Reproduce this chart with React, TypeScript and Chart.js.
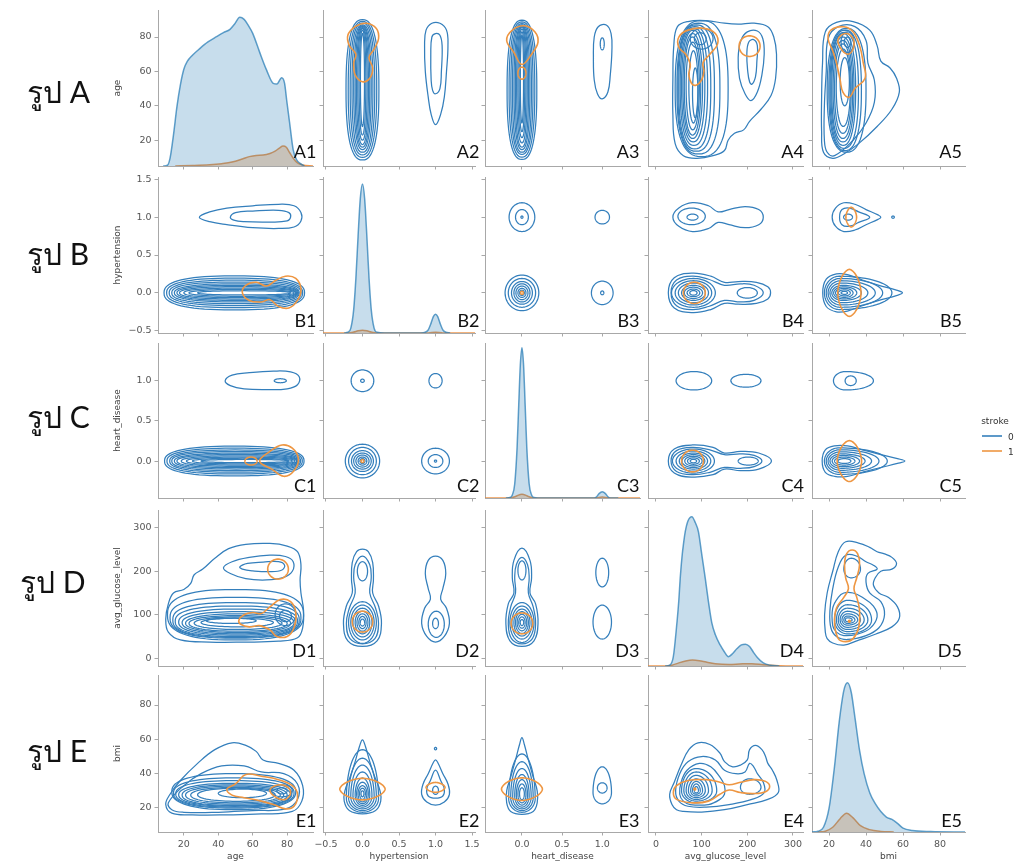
import React, { useEffect, useRef } from 'react';
import { Chart, registerables } from 'chart.js';

Chart.register(...registerables);

// ---------------- data ----------------
const variableNames = ['age', 'hypertension', 'heart_disease', 'avg_glucose_level', 'bmi'];
const rowLetters = ['A', 'B', 'C', 'D', 'E'];
const hueLevels = ['0', '1'];
const legendTitle = 'stroke';

const tickValues: number[][] = [
  [20, 40, 60, 80],
  [-0.5, 0, 0.5, 1, 1.5],
  [0, 0.5, 1],
  [0, 100, 200, 300],
  [20, 40, 60, 80],
];
const xRanges: number[][] = [[5, 95], [-0.54, 1.54], [-0.46, 1.47], [-17.5, 322], [10.8, 93.5]];
const yRanges: number[][] = [[5, 95.7], [-0.53, 1.53], [-0.46, 1.47], [-18, 341], [6, 97.5]];

// diagonal densities: [value, density] (density in % of panel height)
const ageDensity0 = [[8,0],[10.5,0.5],[12,5],[14,20],[16,38],[18,52],[20,62],[22,67],[25,71],[29.4,75.4],[34,79.5],[39,82.9],[43,85.5],[46.8,87.6],[49.5,91],[52.5,95.3],[55,94],[57.5,90],[60,85],[64,73],[68,61.6],[71.9,53],[74,52.6],[76.8,56.6],[78.5,53],[79.7,42.3],[81.5,27],[83.5,10.3],[85.5,4],[87.5,1.7],[90,0]];
const ageDensity1 = [[15,0],[25,0.3],[35,0.8],[42,1.5],[48,2.5],[54,4.5],[58,6],[62,6.8],[66,7],[70,8],[73,9.5],[75.5,11.5],[77.6,12.8],[79.5,12],[81.5,8.5],[83.5,5],[86,2],[89,0.6],[95,0]];
const hypDensity0 = [[-0.25,0],[-0.2,0.5],[-0.16,3],[-0.12,15],[-0.09,35],[-0.06,62],[-0.03,86],[0,95.5],[0.03,86],[0.06,62],[0.09,35],[0.12,15],[0.16,3],[0.2,0.5],[0.3,0],[0.8,0],[0.86,0.5],[0.9,2],[0.94,6.5],[0.97,10.5],[1,12],[1.03,10.5],[1.06,6.5],[1.1,2],[1.14,0.5],[1.2,0]];
const hypDensity1 = [[-0.54,0],[-0.2,0],[-0.12,0.6],[-0.06,1.4],[0,1.8],[0.06,1.4],[0.12,0.6],[0.2,0],[0.9,0],[1,0.5],[1.1,0],[1.54,0]];
const hdDensity0 = [[-0.2,0],[-0.15,0.3],[-0.12,2],[-0.09,9],[-0.06,33],[-0.04,60],[-0.02,86],[0,97],[0.02,86],[0.04,60],[0.06,33],[0.09,9],[0.12,2],[0.15,0.3],[0.2,0],[0.9,0],[0.93,0.8],[0.96,2.8],[1,4],[1.04,2.8],[1.07,0.8],[1.1,0],[1.2,0]];
const hdDensity1 = [[-0.46,0],[-0.15,0],[-0.08,1],[0,2.5],[0.08,1],[0.15,0],[0.92,0],[1,0.6],[1.08,0],[1.47,0]];
const gluDensity0 = [[20,0],[30,0.5],[38,6],[45,25],[50,42],[53,56],[57,70],[61,80],[64,86],[70,93],[78.5,95.7],[86,92],[93,86],[100,72],[108,56],[115,41],[122,28],[130,20],[140.5,13.5],[150,9],[158.6,6],[168,8],[177,11],[187,13.5],[196,14],[205,12.5],[213,9],[222,5.5],[235,2],[250,0.5],[270,0]];
const gluDensity1 = [[-17.5,0],[20,0],[35,0.5],[50,2],[65,3.2],[80,3.8],[95,3.4],[110,2.5],[130,1.5],[160,1],[190,1.4],[210,1.4],[235,0.8],[260,0.3],[290,0],[322,0]];
const bmiDensity0 = [[10.8,0],[14,0.5],[17,3],[20,15],[23,42],[25.5,70],[28,90],[30,95],[32,89],[34,73],[36.5,52],[39,37],[42,25],[45,18],[48,13],[51,9.5],[54,8],[57,5.5],[60,2.5],[65,1],[75,0.3],[93.5,0]];
const bmiDensity1 = [[14,0],[18,0.5],[22,3],[26,8.5],[29.5,12],[33,9],[37,4],[42,1.5],[48,0.4],[55,0]];

// contour specs (x = column variable, y = row variable of the lower panel)
// ['e', hue, cx, cy, rx, ry, p?]  ['a', hue, cx, cy, left, right, down, up, p?]  ['f', hue, x1, y1, x2, y2, ...]
type Spec = (string | number)[];

const contoursAgeHypertension: Spec[] = [
  ['f',0, 29,1.0, 35,1.07, 45,1.12, 60,1.15, 75,1.17, 84,1.15, 88,1.06, 88,0.95, 84,0.87, 75,0.85, 60,0.86, 45,0.9, 35,0.94],
  ['f',0, 47,1.0, 50,1.06, 60,1.08, 75,1.09, 81,1.06, 82,1.0, 80,0.95, 70,0.935, 55,0.94, 49,0.96],
  ['e',0, 49.3,0, 40.8,0.225, 2.5],
  ['e',0, 49.5,0, 39.5,0.195, 2.5],
  ['e',0, 49.8,0, 38.3,0.168, 2.5],
  ['e',0, 50,0, 37,0.143, 2.5],
  ['e',0, 50.5,0, 36,0.12, 2.4],
  ['e',0, 51,0, 35,0.1, 2.4],
  ['e',0, 51.5,0, 34,0.082, 2.3],
  ['e',0, 52.5,0, 32.5,0.064, 2.3],
  ['e',0, 53.5,0, 30.5,0.046, 2.2],
  ['e',0, 55,0, 27,0.028, 2.2],
  ['f',1, 54,0.0, 56,0.1, 62,0.14, 68,0.09, 73,0.16, 79,0.22, 85,0.19, 88,0.05, 86,-0.1, 81,-0.2, 75,-0.18, 70,-0.09, 65,-0.12, 58,-0.1],
];

const contoursAgeHeart: Spec[] = [
  ['f',0, 44,1.0, 48,1.07, 58,1.1, 72,1.12, 82,1.11, 87,1.05, 86,0.95, 80,0.9, 68,0.89, 55,0.9, 47,0.94],
  ['e',0, 76,1.0, 3.5,0.025],
  ['e',0, 49.3,0, 40.5,0.185, 2.5],
  ['e',0, 49.5,0, 39.3,0.16, 2.5],
  ['e',0, 49.8,0, 38,0.138, 2.5],
  ['e',0, 50,0, 37,0.118, 2.5],
  ['e',0, 50.5,0, 36,0.099, 2.4],
  ['e',0, 51,0, 35,0.082, 2.4],
  ['e',0, 52,0, 33.5,0.066, 2.3],
  ['e',0, 53,0, 31.5,0.05, 2.3],
  ['e',0, 54,0, 29,0.035, 2.2],
  ['e',0, 55.5,0, 25.5,0.02, 2.2],
  ['f',1, 64,0.0, 70,0.12, 77,0.2, 83,0.16, 86.5,0.03, 84,-0.12, 78,-0.19, 71,-0.1],
  ['e',1, 59,0, 3.5,0.05],
];

const contoursAgeGlucose: Spec[] = [
  ['f',0, 9.5,90, 11,125, 14,150, 20,158, 24,172, 26,192, 31,205, 38,230, 46,252, 56,262, 70,264, 80,258, 86,245, 88,215, 87.5,180, 88,150, 89.5,110, 89,70, 86,47, 75,39, 55,37, 35,37, 18,42, 11,60],
  ['f',0, 43,208, 48,222, 58,232, 70,237, 79,234, 83.5,222, 83,200, 78,186, 68,180, 56,183, 47,195],
  ['f',0, 52.5,210, 57,218, 66,221, 75,222, 78.5,214, 77,203, 70,199, 60,201, 54,205],
  ['e',0, 50,100, 39.5,58, 2.6],
  ['e',0, 50,93, 38,47, 2.6],
  ['e',0, 50.3,88, 36.7,40, 2.6],
  ['e',0, 50.5,85, 35.5,35, 2.5],
  ['e',0, 51,83, 34,30, 2.4],
  ['e',0, 51.5,81.5, 32.5,25.5, 2.3],
  ['e',0, 51.5,80.5, 30.5,21.5, 2.2],
  ['e',0, 51.5,80, 28.5,18, 2.2],
  ['e',0, 51.5,80.5, 25.5,14.5, 2.1],
  ['e',0, 51,82, 21,10],
  ['e',0, 47.5,86, 14.5,6],
  ['e',0, 79,100, 6,25],
  ['e',0, 79,97, 3.5,13],
  ['e',1, 74.7,205, 6,23],
  ['f',1, 52,88, 55,100, 60,105, 65,103, 70,118, 76,135, 82,130, 85,105, 84,70, 80,50, 74,50, 70,65, 64,75, 58,72, 53,78],
];

const contoursAgeBmi: Spec[] = [
  ['f',0, 9.5,22, 12,28, 18,36, 28,46, 38,54, 48,58, 56,56.5, 62,53, 66,48, 75,46, 84,42, 89,33, 88.5,24, 83,18, 65,16.5, 45,16, 25,16, 13,17],
  ['f',0, 11,23, 20,33, 30,40, 42,44.5, 55,44.5, 65,41, 78,40, 86,34, 86,25, 79,19.5, 60,18.5, 40,17.5, 20,17.5, 13,19],
  ['e',0, 49,29.5, 36,10.5, 2.4],
  ['e',0, 49,28.7, 35,8.8, 2.4],
  ['e',0, 49,28.2, 33.7,7.7, 2.4],
  ['e',0, 49.5,27.7, 32.5,6.7, 2.3],
  ['e',0, 49.5,27.5, 30.5,6, 2.3],
  ['e',0, 49.5,27.5, 28.5,5.3, 2.2],
  ['e',0, 50,27.5, 26,4.5, 2.2],
  ['e',0, 50.5,27.7, 22.5,3.8, 2.1],
  ['e',0, 54,28.5, 14,2.5],
  ['e',0, 77,30, 6,3.5],
  ['e',0, 77,30, 3,1.8],
  ['f',1, 45,31, 50,34, 56,39.5, 65,38.5, 75,36.5, 83,33, 86,28, 84,21, 79,19.5, 72,22, 65,24, 55,26, 48,27.5],
  ['f',1, 70,30, 73,33, 79,33, 82,29, 79,25, 74,26],
];

const contoursHypertensionHeart: Spec[] = [
  ['e',0, 0,0, 0.235,0.21],
  ['e',0, 0,0, 0.19,0.17],
  ['e',0, 0,0, 0.15,0.13],
  ['e',0, 0,0, 0.12,0.1],
  ['e',0, 0,0, 0.09,0.075],
  ['e',0, 0,0, 0.06,0.05],
  ['e',0, 0,0, 0.035,0.03],
  ['e',0, 1,0, 0.19,0.16],
  ['e',0, 1,0, 0.1,0.08],
  ['e',0, 1,0, 0.015,0.013],
  ['e',0, 0,1, 0.155,0.135],
  ['e',0, 0,1, 0.025,0.02],
  ['e',0, 1,1, 0.09,0.09],
  ['e',1, 0,0, 0.02,0.018],
];

const contoursHypertensionGlucose: Spec[] = [
  ['f',0, 1.0,37, 1.12,50, 1.19,80, 1.15,115, 1.07,136, 1.1,160, 1.14,195, 1.1,225, 1.0,235, 0.9,225, 0.86,195, 0.9,160, 0.93,136, 0.85,115, 0.81,80, 0.88,50],
  ['e',0, 1.01,78, 0.11,30],
  ['e',0, 1.0,80, 0.04,12],
  ['f',0, 0,27, 0.2,40, 0.26,80, 0.22,120, 0.14,150, 0.15,180, 0.14,220, 0.08,245, 0,251, -0.08,245, -0.14,220, -0.15,180, -0.14,150, -0.22,120, -0.26,80, -0.2,40],
  ['f',0, 0,33, 0.17,45, 0.22,80, 0.18,115, 0.1,150, 0.12,185, 0.1,215, 0,235, -0.1,215, -0.12,185, -0.1,150, -0.18,115, -0.22,80, -0.17,45],
  ['e',0, 0,82, 0.19,48],
  ['e',0, 0,82, 0.16,40],
  ['e',0, 0,82, 0.13,33],
  ['e',0, 0,82, 0.1,26],
  ['e',0, 0,82, 0.075,20],
  ['e',0, 0,82, 0.05,14],
  ['e',0, 0,82, 0.03,8],
  ['e',0, 0,200, 0.07,22],
  ['e',1, 0,84, 0.14,24],
];

const contoursHeartGlucose: Spec[] = [
  ['e',0, 1.0,83, 0.115,39],
  ['e',0, 1.0,197, 0.08,33],
  ['f',0, 0,27, 0.15,40, 0.2,80, 0.17,125, 0.1,150, 0.12,185, 0.1,225, 0,253, -0.1,225, -0.12,185, -0.1,150, -0.17,125, -0.2,80, -0.15,40],
  ['f',0, 0,33, 0.13,45, 0.17,80, 0.14,118, 0.08,150, 0.09,185, 0.07,215, 0,232, -0.07,215, -0.09,185, -0.08,150, -0.14,118, -0.17,80, -0.13,45],
  ['e',0, 0,82, 0.15,46],
  ['e',0, 0,82, 0.125,38],
  ['e',0, 0,82, 0.1,31],
  ['e',0, 0,82, 0.08,25],
  ['e',0, 0,82, 0.06,19],
  ['e',0, 0,82, 0.04,13],
  ['e',0, 0,82, 0.022,7],
  ['e',0, 0,202, 0.05,22],
  ['e',1, 0,80, 0.135,24],
];

const contoursHypertensionBmi: Spec[] = [
  ['f',0, 1.0,21.7, 1.12,23.5, 1.19,28, 1.17,34, 1.1,40, 1.03,46.5, 1.0,48, 0.97,46.5, 0.9,40, 0.83,34, 0.81,28, 0.88,23.5],
  ['f',0, 1.0,25.7, 1.1,27, 1.12,31, 1.07,36, 1.0,42, 0.93,36, 0.88,31, 0.9,27],
  ['e',0, 1.0,30.3, 0.04,2.4],
  ['e',0, 1.0,54.6, 0.015,0.7],
  ['f',0, 0,16.6, 0.18,18.5, 0.25,24, 0.24,30, 0.17,38, 0.1,47, 0.04,56, 0,59.7, -0.04,56, -0.1,47, -0.17,38, -0.24,30, -0.25,24, -0.18,18.5],
  ['a',0, 0,25.5, 0.22,0.22, 8,28.5],
  ['a',0, 0,26, 0.19,0.19, 7.5,23],
  ['a',0, 0,26.5, 0.16,0.16, 7,18.5],
  ['a',0, 0,27, 0.13,0.13, 6.5,14],
  ['a',0, 0,27.5, 0.1,0.1, 6,10],
  ['a',0, 0,28, 0.08,0.08, 5.5,7],
  ['a',0, 0,28.3, 0.06,0.06, 4.8,4.7],
  ['a',0, 0,28.5, 0.04,0.04, 3.5,3],
  ['a',0, 0,28.5, 0.02,0.02, 2,1.5],
  ['e',1, 1.0,32, 0.13,2.9, 1.7],
  ['e',1, 0,31, 0.31,6.3, 1.7],
];

const contoursHeartBmi: Spec[] = [
  ['a',0, 1.0,29, 0.115,0.115, 6.6,15],
  ['e',0, 1.0,31.7, 0.06,3],
  ['f',0, 0,16.3, 0.14,18, 0.19,23, 0.19,30, 0.14,38, 0.08,48, 0.03,57, 0,61, -0.03,57, -0.08,48, -0.14,38, -0.19,30, -0.19,23, -0.14,18],
  ['a',0, 0,25.5, 0.165,0.165, 8,26],
  ['a',0, 0,26, 0.14,0.14, 7.5,21],
  ['a',0, 0,26.5, 0.115,0.115, 7,16.5],
  ['a',0, 0,27, 0.09,0.09, 6.5,12.5],
  ['a',0, 0,27.5, 0.07,0.07, 5.8,9],
  ['a',0, 0,28, 0.05,0.05, 5,6],
  ['a',0, 0,28.3, 0.03,0.03, 3.5,3.5],
  ['e',1, 0,31, 0.255,6.6, 1.7],
];

const contoursGlucoseBmi: Spec[] = [
  ['f',0, 60,18, 100,17.6, 150,19, 200,22, 245,25, 268,29, 265,36, 255,42, 245,46, 240,50, 232,54, 218,56.5, 205,54, 200,48, 185,45, 168,44, 150,47, 140,52, 118,57, 92,58, 72,54, 55,45, 40,35, 30,28, 35,22, 45,19],
  ['f',0, 70,21, 110,20.5, 160,22, 210,25, 237,29, 235,35, 222,40, 214,44, 205,46, 195,41, 175,40, 150,42, 130,48, 100,50, 70,47, 52,40, 43,30, 50,24],
  ['f',0, 75,22, 115,22, 140,25, 150,28, 150,33, 140,38, 120,44, 95,46, 68,42, 55,35, 52,28, 60,24],
  ['a',0, 205,32, 20,25, 4,5],
  ['a',0, 88,30, 32,45, 7,13],
  ['a',0, 88,30, 27,35, 6,11],
  ['a',0, 88,30, 22,27, 5,9],
  ['a',0, 88,30, 17,20, 4,7],
  ['a',0, 88,30, 12,14, 3,5.5],
  ['a',0, 88,30, 8,9, 2,4],
  ['a',0, 88,30, 4,5, 1.2,2.5],
  ['f',1, 249,32.5, 240,35.5, 215,36.5, 185,35, 160,33.5, 140,35, 110,36.5, 70,36, 45,33, 38,29, 45,25, 80,23, 115,24, 140,28, 160,30.5, 185,29, 215,28.4, 240,29.5],
  ['e',1, 85,31, 2,0.5],
];

const pairContours: Record<string, Spec[]> = {
  '10': contoursAgeHypertension,
  '20': contoursAgeHeart,
  '30': contoursAgeGlucose,
  '40': contoursAgeBmi,
  '21': contoursHypertensionHeart,
  '31': contoursHypertensionGlucose,
  '41': contoursHypertensionBmi,
  '32': contoursHeartGlucose,
  '42': contoursHeartBmi,
  '43': contoursGlucoseBmi,
};
const diagDensities = [
  [ageDensity0, ageDensity1],
  [hypDensity0, hypDensity1],
  [hdDensity0, hdDensity1],
  [gluDensity0, gluDensity1],
  [bmiDensity0, bmiDensity1],
];

// ---------------- layout / style ----------------
const W = 1016, H = 866;
const colLeft = [158, 323, 485, 648, 812];
const colWidth = [155, 152, 155, 155, 153];
const rowTop = [10, 177, 343, 510, 675];
const rowHeight = [156, 156, 155, 156, 157];
const ML = 50, MB = 34, PT = 8, PR = 12;
const labelRight = [316.5, 479.5, 639.5, 804, 962];
const labelBaseline = [158.3, 327, 491.7, 657, 827];
const thaiLeft = [27, 27, 27, 20, 27];
const thaiBaseline = [103, 265, 428, 593, 762];

const BLUE = 'rgb(52,127,188)';
const ORANGE = 'rgb(238,150,66)';
const BLUE_FILL = 'rgba(31,119,180,0.25)';
const ORANGE_FILL = 'rgba(255,127,14,0.28)';
const BLUE_LINE = 'rgba(31,119,180,0.7)';
const ORANGE_LINE = 'rgba(235,135,50,0.85)';
const AXIS_GREY = '#a8a8a8';
const TICK_TEXT = '#555555';
const TITLE_TEXT = '#444444';

function buildShape(spec: Spec, swap: boolean) {
  const kind = spec[0];
  const nums = spec.slice(2) as number[];
  let pts: { x: number; y: number }[] = [];
  let tension = 0;
  if (kind === 'f') {
    for (let i = 0; i + 1 < nums.length; i += 2) pts.push({ x: nums[i], y: nums[i + 1] });
    tension = 0.4;
  } else {
    let cx: number, cy: number, l: number, r: number, d: number, u: number, p: number;
    if (kind === 'e') {
      [cx, cy, l, d, p] = nums;
      r = l;
      u = d;
    } else {
      [cx, cy, l, r, d, u, p] = nums;
    }
    p = p || 2;
    const N = 72;
    for (let i = 0; i < N; i++) {
      const t = (2 * Math.PI * i) / N;
      const c = Math.cos(t);
      const s = Math.sin(t);
      const ex = Math.sign(c) * Math.pow(Math.abs(c), 2 / p);
      const ey = Math.sign(s) * Math.pow(Math.abs(s), 2 / p);
      pts.push({ x: cx + ex * (c >= 0 ? r : l), y: cy + ey * (s >= 0 ? u : d) });
    }
  }
  if (swap) pts = pts.map((q) => ({ x: q.y, y: q.x }));
  return { pts, tension };
}

const closeLoopPlugin = {
  id: 'closeLoop',
  beforeDatasetsDraw(chart: any) {
    chart.data.datasets.forEach((ds: any, i: number) => {
      if (!ds.closed) return;
      const el: any = chart.getDatasetMeta(i).dataset;
      if (!el) return;
      el._loop = true;
      el._fullLoop = true;
      el._pointsUpdated = false;
      el._segments = undefined;
      el._path = undefined;
    });
  },
};

function formatTick(v: number, val: number) {
  if (v === 1 || v === 2) return val.toFixed(1).replace('-', '\u2212');
  return String(val);
}

function axisOpts(axis: 'x' | 'y', v: number, showLabels: boolean) {
  const range = axis === 'x' ? xRanges[v] : yRanges[v];
  return {
    type: 'linear',
    position: axis === 'x' ? 'bottom' : 'left',
    min: range[0],
    max: range[1],
    afterBuildTicks: (s: any) => {
      s.ticks = tickValues[v].map((value) => ({ value }));
    },
    afterFit: (s: any) => {
      if (axis === 'x') s.height = MB;
      else s.width = ML;
      s.paddingLeft = 0;
      s.paddingRight = 0;
      s.paddingTop = 0;
      s.paddingBottom = 0;
    },
    grid: { display: true, drawOnChartArea: false, drawTicks: true, tickLength: 3.5, tickWidth: 1, color: AXIS_GREY },
    border: { display: true, color: AXIS_GREY, width: 1 },
    ticks: {
      display: showLabels,
      padding: 3,
      color: TICK_TEXT,
      font: { family: 'DejaVu Sans', size: 9.5 },
      autoSkip: false,
      maxRotation: 0,
      callback: (val: any) => formatTick(v, Number(val)),
    },
    title: {
      display: showLabels,
      text: variableNames[v],
      color: TITLE_TEXT,
      font: { family: 'DejaVu Sans', size: 9 },
      padding: { top: 4, bottom: 4 },
    },
  };
}

function buildConfig(r: number, c: number): any {
  const datasets: any[] = [];
  // Chart.js paints dataset 0 last (on top)
  if (r === c) {
    const [d0, d1] = diagDensities[r];
    datasets.push({
      data: d0.map(([x, y]) => ({ x, y })), yAxisID: 'yd', borderColor: BLUE_LINE, backgroundColor: BLUE_FILL,
      borderWidth: 1.5, pointRadius: 0, fill: 'origin', cubicInterpolationMode: 'monotone',
    });
    datasets.push({
      data: d1.map(([x, y]) => ({ x, y })), yAxisID: 'yd', borderColor: ORANGE_LINE, backgroundColor: ORANGE_FILL,
      borderWidth: 1.5, pointRadius: 0, fill: 'origin', cubicInterpolationMode: 'monotone',
    });
  } else {
    const lower = r > c;
    const specs = pairContours[lower ? `${r}${c}` : `${c}${r}`];
    const ordered = [...specs.filter((s) => s[1] === 1), ...specs.filter((s) => s[1] === 0)];
    for (const s of ordered) {
      const { pts, tension } = buildShape(s, !lower);
      datasets.push({
        data: pts, borderColor: s[1] === 0 ? BLUE : ORANGE, borderWidth: s[1] === 0 ? 1.25 : 1.6, pointRadius: 0,
        fill: false, tension, spanGaps: true, closed: true, yAxisID: 'y',
      });
    }
  }
  const scales: any = { x: axisOpts('x', c, r === 4), y: axisOpts('y', r, c === 0) };
  if (r === c) scales.yd = { display: false, min: 0, max: 100 };
  return {
    type: 'line',
    data: { datasets },
    options: {
      animation: false,
      responsive: false,
      maintainAspectRatio: false,
      devicePixelRatio: 1,
      events: [],
      layout: { padding: { left: 0, top: PT, right: PR, bottom: 0 } },
      plugins: { legend: { display: false }, tooltip: { enabled: false } },
      scales,
    },
    plugins: [closeLoopPlugin],
  };
}

function Panel({ r, c }: { r: number; c: number }) {
  const ref = useRef<HTMLCanvasElement | null>(null);
  useEffect(() => {
    const chart = new Chart(ref.current as HTMLCanvasElement, buildConfig(r, c));
    return () => chart.destroy();
  }, [r, c]);
  const w = ML + colWidth[c] + PR;
  const h = PT + rowHeight[r] + MB;
  return (
    <canvas
      ref={ref}
      width={w}
      height={h}
      style={{ position: 'absolute', left: colLeft[c] - ML, top: rowTop[r] - PT, width: w, height: h }}
    />
  );
}

export default function App() {
  const panels: any[] = [];
  for (let r = 0; r < 5; r++) for (let c = 0; c < 5; c++) panels.push(<Panel key={`${r}-${c}`} r={r} c={c} />);
  return (
    <div style={{ position: 'absolute', left: 0, top: 0, width: W, height: H, background: '#ffffff', overflow: 'hidden' }}>
      {panels}
      <svg width={W} height={H} style={{ position: 'absolute', left: 0, top: 0, pointerEvents: 'none' }}>
        {rowLetters.map((L, r) => (
          <text key={`t${r}`} x={thaiLeft[r]} y={thaiBaseline[r]} fontFamily="Lato, 'Noto Sans', sans-serif" fontSize={30} fill="#111">
            {`รูป ${L}`}
          </text>
        ))}
        {rowLetters.map((L, r) =>
          [0, 1, 2, 3, 4].map((c) => (
            <text key={`p${r}${c}`} x={labelRight[c]} y={labelBaseline[r]} textAnchor="end" fontFamily="Lato, sans-serif" fontSize={18} fill="#111">
              {`${L}${c + 1}`}
            </text>
          ))
        )}
        <text x={995} y={424} textAnchor="middle" fontFamily="DejaVu Sans" fontSize={9} fill="#333">{legendTitle}</text>
        <line x1={982} y1={436} x2={1002} y2={436} stroke={BLUE} strokeWidth={1.6} />
        <line x1={982} y1={451} x2={1002} y2={451} stroke={ORANGE} strokeWidth={1.6} />
        <text x={1008} y={439.5} fontFamily="DejaVu Sans" fontSize={9} fill="#333">{hueLevels[0]}</text>
        <text x={1008} y={454.5} fontFamily="DejaVu Sans" fontSize={9} fill="#333">{hueLevels[1]}</text>
      </svg>
    </div>
  );
}
